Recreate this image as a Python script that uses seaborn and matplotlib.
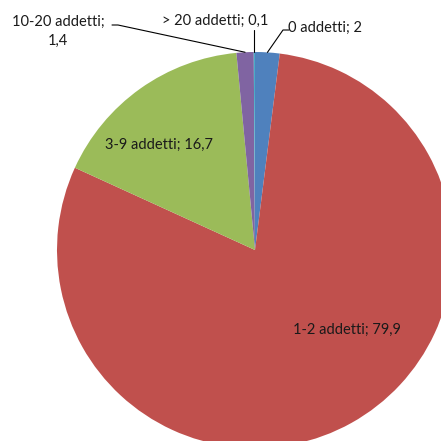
import numpy as np
import matplotlib
matplotlib.use("Agg")
import matplotlib.pyplot as plt
import seaborn as sns

categorie = ['0 addetti', '1-2 addetti', '3-9 addetti', '10-20 addetti', '> 20 addetti']
valori = [2, 79.9, 16.7, 1.4, 0.1]
etichette = ['0 addetti; 2', '1-2 addetti; 79,9', '3-9 addetti; 16,7', '10-20 addetti;\n1,4', '> 20 addetti; 0,1']
colori = ['#4F81BD', '#C0504D', '#9BBB59', '#8064A2', '#4BACC6']

sns.set_theme(style='white')
plt.rcParams['font.family'] = ['Lato', 'DejaVu Sans']

fig = plt.figure(figsize=(4.41, 4.41), dpi=100)
ax = fig.add_axes([0, 0, 1, 1])

wedges, _ = ax.pie(valori, colors=colori, startangle=90, counterclock=False,
                   radius=1, center=(0, 0), wedgeprops=dict(linewidth=0))
ax.axis('off')

# pie centrata a (255, 250) px con raggio ~198 px
r_px = 198
ax.set_aspect('equal', adjustable='datalim')
ax.set_xlim(-255 / r_px, (441 - 255) / r_px)
ax.set_ylim(-(441 - 250) / r_px, 250 / r_px)


def px(x, y):
    # pixel (dall'alto a sinistra) -> coordinate dati
    return (x - 255) / r_px, (250 - y) / r_px


def bordo(w):
    ang = np.deg2rad((w.theta1 + w.theta2) / 2)
    return np.cos(ang), np.sin(ang)


fs = 10.5
col_testo = '#1a1a1a'

# etichette interne
ax.text(*px(159, 145), etichette[2], fontsize=fs, color=col_testo, ha='center', va='center')
ax.text(*px(347, 330), etichette[1], fontsize=fs, color=col_testo, ha='center', va='center')

# 0 addetti
x0, y0 = bordo(wedges[0])
ax.plot([x0, px(283, 30)[0], px(289, 30)[0]], [y0, px(283, 30)[1], px(289, 30)[1]], color='black', lw=0.8)
ax.text(*px(288, 28), etichette[0], fontsize=fs, color=col_testo, ha='left', va='center')

# > 20 addetti
x4, y4 = bordo(wedges[4])
ax.plot([x4, x4], [y4, px(255, 30)[1]], color='black', lw=0.8)
ax.text(*px(215, 21), etichette[4], fontsize=fs, color=col_testo, ha='center', va='center')

# 10-20 addetti
x3, y3 = bordo(wedges[3])
ax.plot([x3, px(118, 25)[0], px(112, 25)[0]], [y3, px(118, 25)[1], px(112, 25)[1]], color='black', lw=0.8)
ax.text(*px(58, 31), etichette[3], fontsize=fs, color=col_testo, ha='center', va='center',
        linespacing=1.45)

fig.savefig('out.png', dpi=100)
